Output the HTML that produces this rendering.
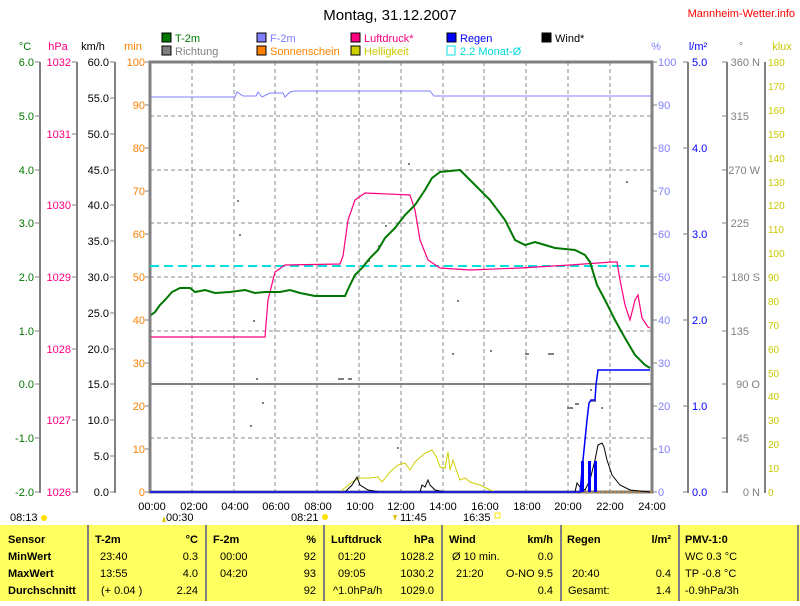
<!DOCTYPE html>
<html><head><meta charset="utf-8"><style>
body{margin:0;background:#fff;width:800px;height:601px;overflow:hidden;font-family:"Liberation Sans",sans-serif}
svg text{font-family:"Liberation Sans",sans-serif}
</style></head><body>
<svg width="800" height="601" xmlns="http://www.w3.org/2000/svg" font-size="11">
<text x="390" y="20" font-size="15" text-anchor="middle">Montag, 31.12.2007</text>
<text x="795" y="17" font-size="11" fill="#ff0000" text-anchor="end">Mannheim-Wetter.info</text>
<g font-size="11">
<rect x="162" y="33" width="9" height="9" fill="#007700" stroke="#000"/><text x="175" y="42" fill="#007700">T-2m</text>
<rect x="162" y="46" width="9" height="9" fill="#808080" stroke="#000"/><text x="175" y="55" fill="#808080">Richtung</text>
<rect x="257" y="33" width="9" height="9" fill="#8080ff" stroke="#000"/><text x="270" y="42" fill="#8080ff">F-2m</text>
<rect x="257" y="46" width="9" height="9" fill="#ff8000" stroke="#000"/><text x="270" y="55" fill="#ff8000">Sonnenschein</text>
<rect x="351" y="33" width="9" height="9" fill="#ff0080" stroke="#000"/><text x="364" y="42" fill="#ff0080">Luftdruck*</text>
<rect x="351" y="46" width="9" height="9" fill="#d0d000" stroke="#000"/><text x="364" y="55" fill="#c8c800">Helligkeit</text>
<rect x="447" y="33" width="9" height="9" fill="#0000ff" stroke="#000"/><text x="460" y="42" fill="#0000ff">Regen</text>
<rect x="447" y="46" width="8" height="9" fill="none" stroke="#00e0e0"/><text x="460" y="55" fill="#00d8d8">2.2 Monat-Ø</text>
<rect x="542" y="33" width="9" height="9" fill="#000" stroke="#000"/><text x="555" y="42">Wind*</text>
</g>
<text x="25" y="50" fill="#007700" text-anchor="middle">°C</text>
<text x="58" y="50" fill="#ff0080" text-anchor="middle">hPa</text>
<text x="93" y="50" text-anchor="middle">km/h</text>
<text x="133" y="50" fill="#ff8000" text-anchor="middle">min</text>
<text x="656" y="50" fill="#8080ff" text-anchor="middle">%</text>
<text x="698" y="50" fill="#0000ff" text-anchor="middle">l/m²</text>
<text x="741" y="50" fill="#808080" text-anchor="middle">°</text>
<text x="782" y="50" fill="#c8c800" text-anchor="middle">klux</text>
<g stroke="#808080" stroke-width="2"><line x1="40" y1="62" x2="40" y2="493"/><line x1="77" y1="62" x2="77" y2="493"/><line x1="115" y1="62" x2="115" y2="493"/>
<line x1="688" y1="62" x2="688" y2="493"/><line x1="727" y1="62" x2="727" y2="493"/><line x1="765" y1="62" x2="765" y2="493"/></g>
<g stroke="#808080" stroke-width="1">
<path d="M35 62h5M35 116h5M35 170h5M35 223h5M35 277h5M35 331h5M35 384h5M35 438h5M35 492h5"/>
<path d="M72 62h5M72 134h5M72 205h5M72 277h5M72 349h5M72 420h5M72 492h5"/>
<path d="M110 62h5M110 98h5M110 134h5M110 170h5M110 205h5M110 241h5M110 277h5M110 313h5M110 349h5M110 384h5M110 420h5M110 456h5M110 492h5"/>
<path d="M145 62h5M145 105h5M145 148h5M145 191h5M145 234h5M145 277h5M145 320h5M145 363h5M145 406h5M145 449h5M145 492h5"/>
<path d="M652 62h5M652 105h5M652 148h5M652 191h5M652 234h5M652 277h5M652 320h5M652 363h5M652 406h5M652 449h5M652 492h5"/>
<path d="M683 62h5M683 148h5M683 234h5M683 320h5M683 406h5M683 492h5"/>
<path d="M722 62h5M722 116h5M722 170h5M722 223h5M722 277h5M722 331h5M722 384h5M722 438h5M722 492h5"/>
</g>
<g fill="#007700" text-anchor="end"><text x="34" y="66">6.0</text><text x="34" y="120">5.0</text><text x="34" y="174">4.0</text><text x="34" y="227">3.0</text><text x="34" y="281">2.0</text><text x="34" y="335">1.0</text><text x="34" y="388">0.0</text><text x="34" y="442">-1.0</text><text x="34" y="496">-2.0</text></g>
<g fill="#ff0080" text-anchor="end"><text x="71" y="66">1032</text><text x="71" y="138">1031</text><text x="71" y="209">1030</text><text x="71" y="281">1029</text><text x="71" y="353">1028</text><text x="71" y="424">1027</text><text x="71" y="496">1026</text></g>
<g text-anchor="end"><text x="109" y="66">60.0</text><text x="109" y="102">55.0</text><text x="109" y="138">50.0</text><text x="109" y="174">45.0</text><text x="109" y="209">40.0</text><text x="109" y="245">35.0</text><text x="109" y="281">30.0</text><text x="109" y="317">25.0</text><text x="109" y="353">20.0</text><text x="109" y="388">15.0</text><text x="109" y="424">10.0</text><text x="109" y="460">5.0</text><text x="109" y="496">0.0</text></g>
<g fill="#ff8000" text-anchor="end"><text x="145" y="66">100</text><text x="145" y="109">90</text><text x="145" y="152">80</text><text x="145" y="195">70</text><text x="145" y="238">60</text><text x="145" y="281">50</text><text x="145" y="324">40</text><text x="145" y="367">30</text><text x="145" y="410">20</text><text x="145" y="453">10</text><text x="145" y="496">0</text></g>
<g fill="#8080ff"><text x="658" y="66">100</text><text x="658" y="109">90</text><text x="658" y="152">80</text><text x="658" y="195">70</text><text x="658" y="238">60</text><text x="658" y="281">50</text><text x="658" y="324">40</text><text x="658" y="367">30</text><text x="658" y="410">20</text><text x="658" y="453">10</text><text x="658" y="496">0</text></g>
<g fill="#0000ff"><text x="692" y="66">5.0</text><text x="692" y="152">4.0</text><text x="692" y="238">3.0</text><text x="692" y="324">2.0</text><text x="692" y="410">1.0</text><text x="692" y="496">0.0</text></g>
<g fill="#808080" text-anchor="end"><text x="760" y="66">360 N</text><text x="749" y="120">315</text><text x="760" y="174">270 W</text><text x="749" y="227">225</text><text x="760" y="281">180 S</text><text x="749" y="335">135</text><text x="760" y="388">90 O</text><text x="749" y="442">45</text><text x="760" y="496">0 N</text></g>
<g fill="#c8c800" font-size="10"><text x="768" y="66">180</text><text x="768" y="90">170</text><text x="768" y="114">160</text><text x="768" y="138">150</text><text x="768" y="162">140</text><text x="768" y="186">130</text><text x="768" y="209">120</text><text x="768" y="233">110</text><text x="768" y="257">100</text><text x="768" y="281">90</text><text x="768" y="305">80</text><text x="768" y="329">70</text><text x="768" y="353">60</text><text x="768" y="377">50</text><text x="768" y="400">40</text><text x="768" y="424">30</text><text x="768" y="448">20</text><text x="768" y="472">10</text><text x="768" y="496">0</text></g>
<g stroke="#888" stroke-dasharray="4,3" stroke-width="1">
<path d="M150 116H652M150 170H652M150 223H652M150 277H652M150 331H652M150 438H652"/>
<path d="M192 62V492M234 62V492M275 62V492M317 62V492M359 62V492M401 62V492M443 62V492M484 62V492M526 62V492M568 62V492M610 62V492"/>
</g>
<rect x="150" y="62" width="502" height="430" fill="none" stroke="#808080" stroke-width="3"/>
<line x1="150" y1="384" x2="652" y2="384" stroke="#808080" stroke-width="2"/>
<line x1="150" y1="492" x2="652" y2="492" stroke="#ff8000" stroke-width="1" stroke-dasharray="2,2"/>
<g fill="#808080"><rect x="237" y="200" width="2" height="2"/><rect x="239" y="234" width="2" height="2"/><rect x="253" y="320" width="2" height="2"/><rect x="256" y="378" width="2" height="2"/><rect x="262" y="402" width="2" height="2"/><rect x="250" y="425" width="2" height="2"/><rect x="338" y="378" width="6" height="2"/><rect x="348" y="378" width="4" height="2"/><rect x="368" y="260" width="2" height="2"/><rect x="378" y="245" width="2" height="2"/><rect x="385" y="225" width="2" height="2"/><rect x="397" y="447" width="2" height="2"/><rect x="408" y="163" width="2" height="2"/><rect x="452" y="353" width="2" height="2"/><rect x="457" y="300" width="2" height="2"/><rect x="490" y="350" width="2" height="2"/><rect x="525" y="353" width="4" height="2"/><rect x="548" y="353" width="6" height="2"/><rect x="567" y="407" width="6" height="2"/><rect x="575" y="403" width="4" height="2"/><rect x="590" y="400" width="6" height="2"/><rect x="601" y="407" width="2" height="2"/><rect x="626" y="181" width="2" height="2"/><rect x="590" y="389" width="2" height="2"/></g>
<line x1="150" y1="266" x2="652" y2="266" stroke="#00e0e0" stroke-width="2" stroke-dasharray="9,5"/>
<polyline fill="none" stroke="#8080ff" stroke-width="1" points="151,97 235,97 237,92 243,96 256,96 258,92 262,97 270,93 283,93 285,97 290,92 295,91 430,91 434,96 651,96"/>
<polyline fill="none" stroke="#d0d000" stroke-width="1" points="325,492 340,492 352,482 360,478 370,478 378,477 382,482 390,472 398,465 405,463 410,470 415,462 425,453 432,450 437,458 440,467 445,468 448,452 450,470 453,460 457,472 460,480 465,478 470,482 480,485 490,490 495,492"/>
<polyline fill="none" stroke="#000" stroke-width="1" points="150,492 345,492 352,485 357,477 360,485 368,490 380,492 420,492 422,485 425,487 428,480 430,485 435,490 445,492 575,492 577,483 580,487 585,490 590,480 595,460 598,445 602,443 604,447 607,460 612,475 620,485 630,490 650,492"/>
<g fill="#0000ff"><rect x="581" y="461" width="3" height="31"/><rect x="588" y="461" width="3" height="31"/><rect x="594" y="461" width="3" height="31"/></g>
<polyline fill="none" stroke="#0000ff" stroke-width="1.5" points="150,492 580,492 583,460 585,440 587,420 589,403 591,400 595,400 596,385 598,370 650,370"/>
<polyline fill="none" stroke="#ff0080" stroke-width="1.2" points="151,337 265,337 268,300 275,272 285,265 340,264 343,256 348,220 355,200 365,193 410,195 415,210 420,240 428,260 440,268 470,270 520,268 570,265 612,262 617,262 620,280 625,305 630,320 635,300 638,295 642,318 648,327 650,328"/>
<polyline fill="none" stroke="#007700" stroke-width="2" points="151,315 155,312 160,305 165,300 172,292 180,288 190,288 195,292 205,290 215,293 230,292 245,290 255,293 265,292 280,292 290,290 300,293 315,296 345,296 350,285 355,275 362,268 370,258 378,250 385,238 395,228 405,215 415,205 425,190 432,178 440,172 460,170 465,175 475,185 490,200 505,220 515,240 525,245 535,242 545,245 555,248 575,250 585,255 590,262 597,285 605,300 615,320 625,338 635,355 645,365 650,368"/>
<g text-anchor="middle"><text x="152" y="510">00:00</text><text x="194" y="510">02:00</text><text x="235" y="510">04:00</text><text x="276" y="510">06:00</text><text x="318" y="510">08:00</text><text x="360" y="510">10:00</text><text x="401" y="510">12:00</text><text x="443" y="510">14:00</text><text x="485" y="510">16:00</text><text x="527" y="510">18:00</text><text x="568" y="510">20:00</text><text x="610" y="510">22:00</text><text x="652" y="510">24:00</text></g>
<text x="10" y="521">08:13</text><circle cx="44" cy="518" r="3" fill="#ffe000"/>
<path d="M162 522l2-6 2 6z" fill="#e0c000"/><text x="166" y="521">00:30</text><text x="291" y="521">08:21</text><circle cx="325" cy="517" r="3" fill="#ffe000"/>
<path d="M393 515l2 6 2-6z" fill="#e0c000"/><text x="400" y="521">11:45</text><text x="463" y="521">16:35</text><rect x="495" y="513" width="5" height="5" fill="none" stroke="#ffe000"/>
<rect x="0" y="525" width="800" height="76" fill="#ffff60"/>
<g stroke="#808080" stroke-width="2"><line x1="88" y1="525" x2="88" y2="601"/><line x1="206" y1="525" x2="206" y2="601"/><line x1="324" y1="525" x2="324" y2="601"/><line x1="442" y1="525" x2="442" y2="601"/><line x1="561" y1="525" x2="561" y2="601"/><line x1="679" y1="525" x2="679" y2="601"/><line x1="798" y1="525" x2="798" y2="601"/></g>
<g font-size="11">
<g font-weight="bold"><text x="8" y="543">Sensor</text><text x="8" y="560">MinWert</text><text x="8" y="577">MaxWert</text><text x="8" y="594">Durchschnitt</text>
<text x="95" y="543">T-2m</text><text x="198" y="543" text-anchor="end">°C</text><text x="213" y="543">F-2m</text><text x="316" y="543" text-anchor="end">%</text>
<text x="331" y="543">Luftdruck</text><text x="434" y="543" text-anchor="end">hPa</text><text x="449" y="543">Wind</text><text x="553" y="543" text-anchor="end">km/h</text>
<text x="567" y="543">Regen</text><text x="671" y="543" text-anchor="end">l/m²</text><text x="685" y="543">PMV-1:0</text>
<text x="8" y="609">31.12. 23:55</text><text x="198" y="609" text-anchor="end">0.3</text><text x="316" y="609" text-anchor="end">92</text><text x="434" y="609" text-anchor="end">1029.2</text><text x="553" y="609" text-anchor="end">0.0</text><text x="671" y="609" text-anchor="end">0.0</text></g>
<text x="100" y="560">23:40</text><text x="198" y="560" text-anchor="end">0.3</text><text x="220" y="560">00:00</text><text x="316" y="560" text-anchor="end">92</text><text x="338" y="560">01:20</text><text x="434" y="560" text-anchor="end">1028.2</text><text x="452" y="560">Ø 10 min.</text><text x="553" y="560" text-anchor="end">0.0</text><text x="685" y="560">WC 0.3 °C</text>
<text x="100" y="577">13:55</text><text x="198" y="577" text-anchor="end">4.0</text><text x="220" y="577">04:20</text><text x="316" y="577" text-anchor="end">93</text><text x="338" y="577">09:05</text><text x="434" y="577" text-anchor="end">1030.2</text><text x="456" y="577">21:20</text><text x="553" y="577" text-anchor="end">O-NO 9.5</text><text x="572" y="577">20:40</text><text x="671" y="577" text-anchor="end">0.4</text><text x="685" y="577">TP -0.8 °C</text>
<text x="101" y="594">(+ 0.04 )</text><text x="198" y="594" text-anchor="end">2.24</text><text x="316" y="594" text-anchor="end">92</text><text x="333" y="594">^1.0hPa/h</text><text x="434" y="594" text-anchor="end">1029.0</text><text x="553" y="594" text-anchor="end">0.4</text><text x="568" y="594">Gesamt:</text><text x="671" y="594" text-anchor="end">1.4</text><text x="685" y="594">-0.9hPa/3h</text>
<text x="213" y="609">4.55 g/m³</text><text x="333" y="609">min</text><text x="449" y="609">0.0%</text><text x="567" y="609">1.4 l/m²</text><text x="685" y="609">0.0hPa/1h</text>
</g>
</svg>
</body></html>
